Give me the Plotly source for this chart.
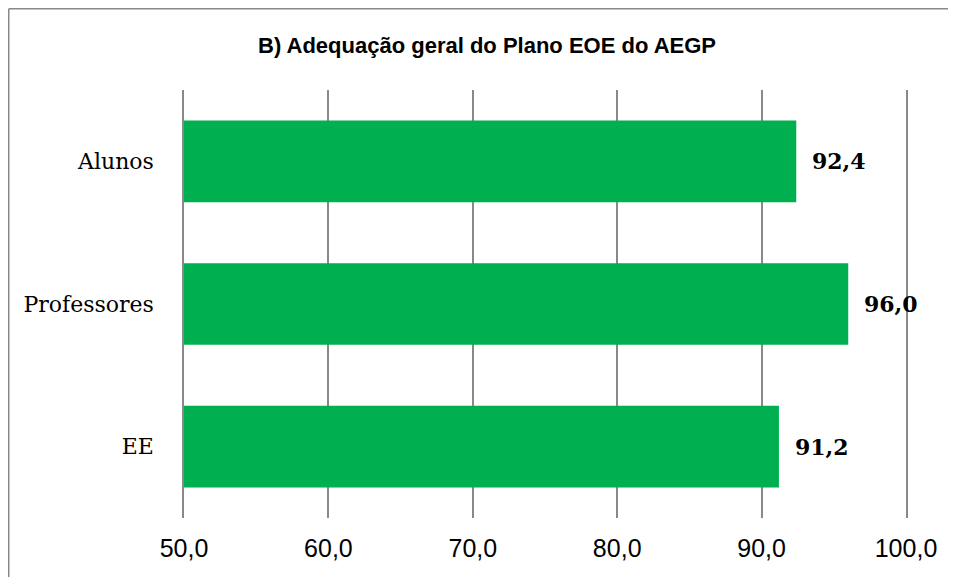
import plotly.graph_objects as go

# dados
categorias = ['Alunos', 'Professores', 'EE']
valores = [92.4, 96.0, 91.2]
ticks_x = [50, 60, 70, 80, 90, 100]
titulo = '<b>B) Adequação geral do Plano EOE do AEGP</b>'

VERDE = '#00B050'
CINZA = '#898989'

fig = go.Figure()
fig.add_trace(go.Bar(
    x=valores,
    y=categorias,
    orientation='h',
    marker=dict(color=VERDE, line=dict(width=0)),
    hoverinfo='skip',
))

# rótulos de valor a direita das barras
for cat, v in zip(categorias, valores):
    fig.add_annotation(
        x=v, y=cat, xref='x', yref='y',
        text='<b>' + ('%.1f' % v).replace('.', ',') + '</b>',
        showarrow=False, xanchor='left', xshift=14,
        font=dict(family='DejaVu Serif', size=22, color='black'),
    )

# a página tem margem de 8px
W, H = 948, 569
L, T = 176, 82
R = W - 898
B = H - 510
pw, ph = W - L - R, H - T - B

# moldura do gráfico: só os lados esquerdo e superior ficam visíveis
xe = (0.75 - L) / pw
yt = 1 + (T - 0.75) / ph
fig.add_shape(type='line', xref='paper', yref='paper',
              x0=xe, x1=xe, y0=-(B + 30) / ph, y1=yt,
              line=dict(color=CINZA, width=1.5))
fig.add_shape(type='line', xref='paper', yref='paper',
              x0=xe, x1=(W + 30 - L) / pw, y0=yt, y1=yt,
              line=dict(color=CINZA, width=1.5))

fig.update_layout(
    width=W, height=H,
    margin=dict(l=L, r=R, t=T, b=B),
    plot_bgcolor='white',
    paper_bgcolor='white',
    separators=',.',
    showlegend=False,
    bargap=0.427,
    title=dict(text=titulo, x=479 / W, xanchor='center', y=1 - 37 / H, yanchor='middle',
               font=dict(family='Liberation Sans', size=22, color='black')),
)
fig.update_xaxes(
    range=[50, 100], tickvals=ticks_x, tickformat='.1f',
    showgrid=True, gridcolor=CINZA, gridwidth=1.5,
    zeroline=False, showline=False, ticks='',
    tickfont=dict(family='Liberation Sans', size=25, color='black'),
    ticklabelstandoff=13,
)
fig.update_yaxes(
    autorange='reversed',
    showline=True, mirror=True, linecolor=CINZA, linewidth=1.5,
    showgrid=False, ticks='',
    tickfont=dict(family='DejaVu Serif', size=22, color='black'),
    ticklabelstandoff=24,
)

fig.write_html('out.html')
